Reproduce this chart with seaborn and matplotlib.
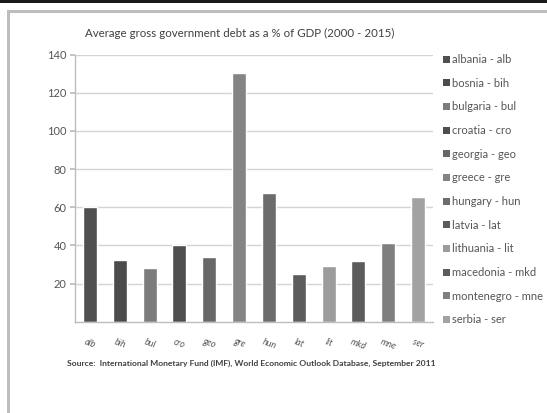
import matplotlib
matplotlib.use("Agg")
import matplotlib.pyplot as plt
import seaborn as sns
import pandas as pd
from matplotlib.patches import Rectangle

codes = ["alb", "bih", "bul", "cro", "geo", "gre", "hun", "lat", "lit", "mkd", "mne", "ser"]
countries = ["albania", "bosnia", "bulgaria", "croatia", "georgia", "greece",
             "hungary", "latvia", "lithuania", "macedonia", "montenegro", "serbia"]
debt = [60.3, 32.4, 28.3, 40.4, 34.1, 130.3, 67.3, 24.8, 29.2, 32.0, 41.4, 65.2]
shades = ["#505050", "#4b4b4b", "#7c7c7c", "#4e4e4e", "#686868", "#848484",
          "#6c6c6c", "#5c5c5c", "#9c9c9c", "#5c5c5c", "#7f7f7f", "#a2a2a2"]
yticks = [20, 40, 60, 80, 100, 120, 140]

title = "Average gross government debt as a % of GDP (2000 - 2015)"
source = "Source:  International Monetary Fund (IMF), World Economic Outlook Database, September 2011"

labels = [f"{c} - {k}" for c, k in zip(countries, codes)]
df = pd.DataFrame({"code": codes, "label": labels, "debt": debt})

sns.set_theme(style="white")
plt.rcParams["font.family"] = ["Lato", "DejaVu Sans"]

W, H = 547, 413
fig = plt.figure(figsize=(W / 100, H / 100), dpi=100)
fig.patch.set_facecolor("white")

# window frame: dark strip on top, grey border of the chart panel
fig.add_artist(Rectangle((0, 1 - 3 / H), 1, 3 / H, transform=fig.transFigure,
                         facecolor="#1a1a1a", edgecolor="none"))
fig.add_artist(Rectangle((7 / W, 0), 2.5 / W, 1 - 10 / H, transform=fig.transFigure,
                         facecolor="#bdbdbd", edgecolor="none"))
fig.add_artist(Rectangle((7 / W, 1 - 12.5 / H), 1, 2.5 / H, transform=fig.transFigure,
                         facecolor="#bdbdbd", edgecolor="none"))

ax = fig.add_axes([75 / W, (H - 321.7) / H, 358 / W, 267 / H])
sns.barplot(data=df, x="code", y="debt", hue="label",
            palette=dict(zip(labels, shades)), width=0.47, dodge=False,
            saturation=1, legend=False, ax=ax)

ax.set_ylim(0, 140)
ax.set_xlim(-0.5, len(codes) - 0.5)
ax.set_yticks(yticks)
ax.set_yticklabels([str(t) for t in yticks], fontsize=8, color="#555555")
ax.yaxis.grid(True, color="#d4d4d4", linewidth=1)
ax.set_axisbelow(True)
ax.set_xlabel("")
ax.set_ylabel("")
ax.set_xticks(range(len(codes)))
ax.set_xticklabels(codes, rotation=-20, fontsize=6.5, color="#555555",
                   style="italic", ha="center")
ax.tick_params(axis="y", which="both", left=True, length=3.6, color="#bdbdbd", pad=2.5)
ax.tick_params(axis="x", which="both", bottom=False, pad=5)
for s in ["top", "right"]:
    ax.spines[s].set_visible(False)
ax.spines["left"].set_color("#bdbdbd")
ax.spines["bottom"].set_color("#bdbdbd")
ax.spines["left"].set_linewidth(1)
ax.spines["bottom"].set_linewidth(1)

handles = [Rectangle((0, 0), 1, 1, facecolor=c, edgecolor="none") for c in shades]
leg = fig.legend(handles, labels, loc="upper left",
                 bbox_to_anchor=(443 / W, 1 - 54 / H), frameon=False,
                 fontsize=8, labelspacing=1.14, handlelength=0.6,
                 handleheight=0.6, handletextpad=0.2, borderaxespad=0,
                 borderpad=0)
for t in leg.get_texts():
    t.set_color("#555555")

fig.text(85 / W, 1 - 33 / H, title, fontsize=8.3, color="#404040",
         va="center", ha="left")
fig.text(67 / W, 1 - 363 / H, source, fontsize=6.1, color="#404040",
         fontweight="bold", va="center", ha="left")

fig.savefig("out.png", dpi=100, facecolor="white")
